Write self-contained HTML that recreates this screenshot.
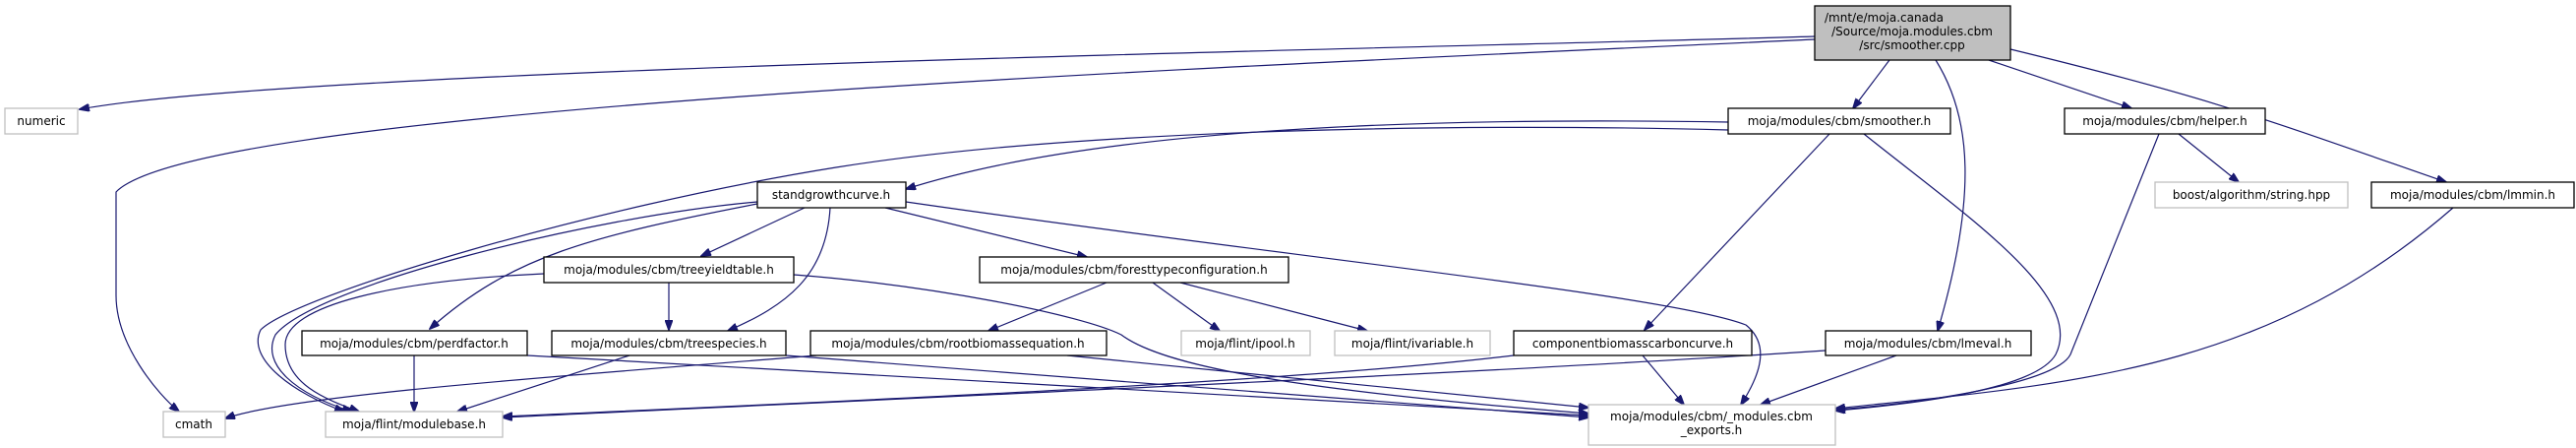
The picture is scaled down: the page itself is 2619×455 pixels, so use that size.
<!DOCTYPE html>
<html><head><meta charset="utf-8"><style>
html,body{margin:0;padding:0;background:#fff;width:2619px;height:455px;overflow:hidden}
svg text{font-family:"DejaVu Sans","Liberation Sans",sans-serif;font-size:12px;fill:#000;text-anchor:middle}
.e{fill:none;stroke:#191970;stroke-width:1.2}
.n{fill:#fff;stroke:#000;stroke-width:1.3}
.g{fill:#fff;stroke:#bfbfbf;stroke-width:1.3}
</style></head><body>
<svg width="2619" height="455" viewBox="0 0 2619 455" xmlns="http://www.w3.org/2000/svg">
<defs><marker id="a" markerWidth="11" markerHeight="8" refX="10" refY="4" orient="auto" markerUnits="userSpaceOnUse"><path d="M0,0 L11,4 L0,8 z" fill="#191970" stroke="#191970"/></marker></defs>
<g class="e" marker-end="url(#a)">
<path d="M1845,37 C1400,50 300,70 81,111"/>
<path d="M1845,40 C1200,70 200,110 118,195 L118,300 C118,350 160,400 182,418"/>
<path d="M1921,61 L1884,110"/>
<path d="M1968,61 C2005,120 2010,200 1970,336"/>
<path d="M2022,61 L2167,110"/>
<path d="M2044,50 C2250,100 2300,120 2487,185"/>
<path d="M1757,124 C1400,118 1100,135 921,192"/>
<path d="M1757,132 C1500,125 1100,130 850,170 C600,210 300,300 265,335 C250,365 300,400 350,418"/>
<path d="M1860,136 L1672,335"/>
<path d="M1895,136 C2000,220 2120,300 2090,360 C2070,395 1950,410 1866,417"/>
<path d="M2215,136 L2276,185"/>
<path d="M2195,136 L2105,360 C2090,390 1950,410 1866,416"/>
<path d="M2494,211 C2300,380 2100,390 1866,415"/>
<path d="M1928,361 L1790,411"/>
<path d="M1856,356 C1500,380 800,410 511,424"/>
<path d="M1539,361 C1300,390 800,410 511,423"/>
<path d="M1670,361 L1712,411"/>
<path d="M770,205 C600,220 320,290 280,340 C265,370 300,400 358,418"/>
<path d="M770,207 C600,240 520,260 437,334"/>
<path d="M818,211 L713,260"/>
<path d="M844,211 C840,280 800,310 740,336"/>
<path d="M900,211 L1105,261"/>
<path d="M921,205 C1300,260 1700,300 1775,330 C1800,350 1790,380 1770,411"/>
<path d="M553,278 C400,285 290,310 290,350 C290,390 330,405 365,418"/>
<path d="M680,286 L680,335"/>
<path d="M807,279 C950,290 1100,320 1140,340 C1180,370 1300,395 1615,420"/>
<path d="M421,361 L421,418"/>
<path d="M536,361 L1615,422"/>
<path d="M640,361 L465,418"/>
<path d="M799,361 L1615,424"/>
<path d="M830,361 C600,380 300,400 229,425"/>
<path d="M1085,361 L1615,414"/>
<path d="M1125,287 L1005,336"/>
<path d="M1172,287 L1240,336"/>
<path d="M1200,287 L1390,336"/>
</g>
<rect x="1845" y="6" width="199" height="55" fill="#bfbfbf" stroke="#000" stroke-width="1.3"/>
<text x="1855" y="22" style="text-anchor:start">/mnt/e/moja.canada</text>
<text x="1944" y="36">/Source/moja.modules.cbm</text>
<text x="1944" y="50">/src/smoother.cpp</text>
<rect class="g" x="5" y="110" width="74" height="26"/><text x="42" y="127">numeric</text>
<rect class="n" x="1757" y="110" width="226" height="26"/><text x="1870" y="127">moja/modules/cbm/smoother.h</text>
<rect class="n" x="2099" y="110" width="204" height="26"/><text x="2201" y="127">moja/modules/cbm/helper.h</text>
<rect class="g" x="2191" y="185" width="196" height="26"/><text x="2289" y="202">boost/algorithm/string.hpp</text>
<rect class="n" x="2411" y="185" width="206" height="26"/><text x="2514" y="202">moja/modules/cbm/lmmin.h</text>
<rect class="n" x="770" y="185" width="151" height="26"/><text x="845" y="202">standgrowthcurve.h</text>
<rect class="n" x="553" y="261" width="254" height="26"/><text x="680" y="278">moja/modules/cbm/treeyieldtable.h</text>
<rect class="n" x="996" y="261" width="314" height="26"/><text x="1153" y="278">moja/modules/cbm/foresttypeconfiguration.h</text>
<rect class="n" x="307" y="336" width="229" height="25"/><text x="421" y="353">moja/modules/cbm/perdfactor.h</text>
<rect class="n" x="561" y="336" width="238" height="25"/><text x="680" y="353">moja/modules/cbm/treespecies.h</text>
<rect class="n" x="824" y="336" width="301" height="25"/><text x="974" y="353">moja/modules/cbm/rootbiomassequation.h</text>
<rect class="g" x="1201" y="336" width="131" height="25"/><text x="1266" y="353">moja/flint/ipool.h</text>
<rect class="g" x="1357" y="336" width="158" height="25"/><text x="1436" y="353">moja/flint/ivariable.h</text>
<rect class="n" x="1539" y="336" width="242" height="25"/><text x="1660" y="353">componentbiomasscarboncurve.h</text>
<rect class="n" x="1856" y="336" width="209" height="25"/><text x="1960" y="353">moja/modules/cbm/lmeval.h</text>
<rect class="g" x="166" y="418" width="63" height="26"/><text x="197" y="435">cmath</text>
<rect class="g" x="331" y="418" width="180" height="26"/><text x="421" y="435">moja/flint/modulebase.h</text>
<rect class="g" x="1615" y="411" width="251" height="41"/><text x="1740" y="427">moja/modules/cbm/_modules.cbm</text><text x="1740" y="441">_exports.h</text>
</svg>
</body></html>
